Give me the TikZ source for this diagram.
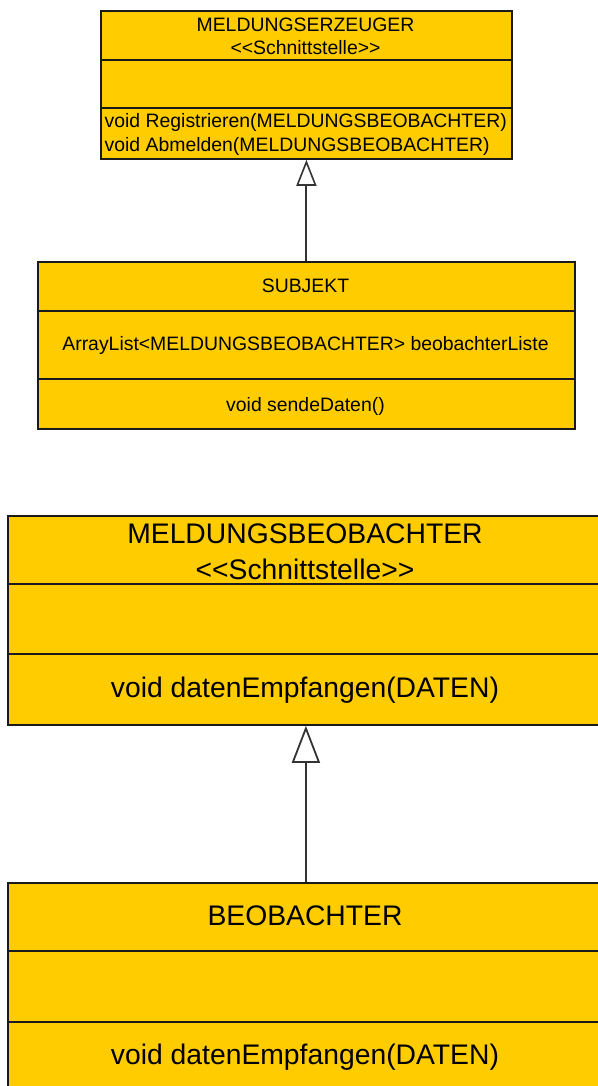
\documentclass[tikz,border=0pt]{standalone}
\usepackage{fontspec}
\setmainfont{Liberation Sans}
\usetikzlibrary{arrows.meta}
\definecolor{umlfill}{HTML}{FFCC00}
\definecolor{umlline}{HTML}{1A1A1A}
\definecolor{connline}{HTML}{333333}
\begin{document}
\begin{tikzpicture}[x=1pt,y=-1pt,
  classbox/.style={draw=umlline, fill=umlfill, line width=1.8pt, inner sep=0pt, anchor=north west},
  divider/.style={draw=umlline, line width=1.8pt},
  smalltext/.style={font=\fontsize{19.4}{22}\selectfont, inner sep=0pt},
  bigtext/.style={font=\fontsize{28.3}{32}\selectfont, inner sep=0pt},
  inheritsmall/.style={draw=connline, line width=2pt, -{Triangle[fill=white, length=26pt, width=20pt, line width=1.6pt]}},
  inheritbig/.style={draw=connline, line width=2pt, -{Triangle[fill=white, length=37pt, width=28pt, line width=1.8pt]}},
]
\useasboundingbox (0,0) rectangle (597,1086);

% MELDUNGSERZEUGER
\node[classbox, minimum width=411pt, minimum height=148pt] (erz) at (100,10) {};
\draw[divider] (100,60) -- (511,60);
\draw[divider] (100,108) -- (511,108);
\node[smalltext] (erzname) at (305.5,25) {MELDUNGSERZEUGER};
\node[smalltext] (erzstereo) at (305.5,47.5) {<{}<Schnittstelle>{}>};
\node[smalltext, anchor=west] (erzm1) at (104.5,122.5) {void Registrieren(MELDUNGSBEOBACHTER)};
\node[smalltext, anchor=west] (erzm2) at (104.5,146) {void Abmelden(MELDUNGSBEOBACHTER)};

% SUBJEKT
\node[classbox, minimum width=537pt, minimum height=167pt] (subj) at (37,261) {};
\draw[divider] (37,311) -- (574,311);
\draw[divider] (37,379) -- (574,379);
\node[smalltext] (subjname) at (305.5,286) {SUBJEKT};
\node[smalltext] (subjattr) at (305.5,345.5) {ArrayList<MELDUNGSBEOBACHTER> beobachterListe};
\node[smalltext] (subjm1) at (305.5,406) {void sendeDaten()};

% MELDUNGSBEOBACHTER (runs past the right edge)
\node[classbox, minimum width=596pt, minimum height=209pt] (mbeob) at (7,515) {};
\fill[umlfill] (598,515.9) rectangle (630,723.1);
\draw[divider] (7,584) -- (630,584);
\draw[divider] (7,654) -- (630,654);
\draw[divider] (600,515) -- (630,515);
\draw[divider] (600,724) -- (630,724);
\node[bigtext] (mbeobname) at (305,534) {MELDUNGSBEOBACHTER};
\node[bigtext] (mbeobstereo) at (305,569) {<{}<Schnittstelle>{}>};
\node[bigtext] (mbeobm1) at (305,690) {void datenEmpfangen(DATEN)};

% BEOBACHTER (runs past the right and bottom edges)
\node[classbox, minimum width=596pt, minimum height=240pt] (beob) at (7,882) {};
\fill[umlfill] (598,882.9) rectangle (630,1121);
\draw[divider] (7,951) -- (630,951);
\draw[divider] (7,1022) -- (630,1022);
\draw[divider] (600,882) -- (630,882);
\node[bigtext] (beobname) at (305,916) {BEOBACHTER};
\node[bigtext] (beobm1) at (305,1057) {void datenEmpfangen(DATEN)};

% generalisations
\draw[inheritsmall] (subj.north) -- (erz.south);
\draw[inheritbig] (beob.north) -- (mbeob.south);
\end{tikzpicture}
\end{document}
